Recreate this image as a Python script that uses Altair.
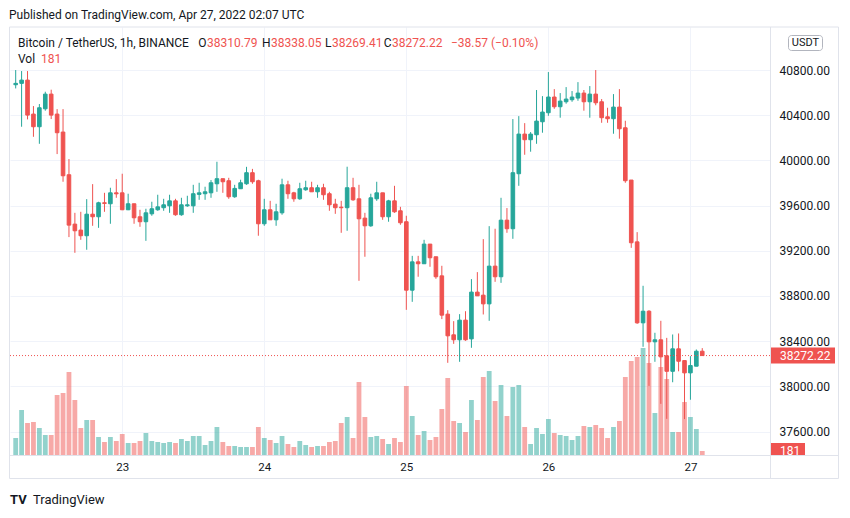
import altair as alt
import pandas as pd
import numpy as np

# ---------------- data ----------------
published = "Published on TradingView.com, Apr 27, 2022 02:07 UTC"
symbol_title = "Bitcoin / TetherUS, 1h, BINANCE"
quote_unit = "USDT"
first_hour = "2022-04-22 06:00"
day_ticks = [23, 24, 25, 26, 27]
price_ticks = [37600, 38000, 38400, 38800, 39200, 39600, 40000, 40400, 40800]

opens = [40670, 40682, 40711, 40410, 40298, 40457, 40587, 40410, 40251, 39873,
         39436, 39383, 39333, 39524, 39501, 39625, 39616, 39713, 39713, 39563,
         39616, 39501, 39457, 39527, 39563, 39581, 39598, 39642, 39519, 39598,
         39598, 39699, 39705, 39713, 39793, 39838, 39820, 39678, 39749, 39793,
         39891, 39820, 39439, 39563, 39474, 39536, 39784, 39713, 39660, 39740,
         39758, 39722, 39758, 39705, 39613, 39586, 39581, 39758, 39660, 39489,
         39421, 39660, 39713, 39501, 39642, 39554, 39457, 38851, 39102, 39085,
         39259, 39147, 38978, 38639, 38456, 38412, 38586, 38420, 38834, 38807,
         38730, 39064, 38970, 39471, 39395, 39882, 40233, 40183, 40227, 40342,
         40422, 40561, 40475, 40519, 40537, 40552, 40596, 40519, 40587, 40519,
         40386, 40369, 40472, 40289, 39826, 39279, 38562, 38665, 38394, 38412,
         38270, 38133, 38332, 38228, 38119, 38178, 38310.79]
highs = [40800, 40791, 40791, 40481, 40499, 40608, 40626, 40454, 40454, 40012,
         39536, 39545, 39657, 39790, 39634, 39713, 39758, 39834, 39882, 39705,
         39616, 39563, 39572, 39634, 39696, 39660, 39696, 39660, 39669, 39687,
         39784, 39802, 39767, 39826, 39988, 39838, 39846, 39784, 39829, 39943,
         39925, 39829, 39660, 39642, 39616, 39838, 39820, 39722, 39802, 39820,
         39811, 39784, 39793, 39722, 39660, 39642, 39944, 39846, 39784, 39536,
         39705, 39811, 39713, 39651, 39775, 39589, 39510, 39155, 39155, 39297,
         39259, 39147, 39067, 38674, 38577, 38639, 38665, 38949, 39011, 39303,
         39418, 39395, 39669, 39578, 40366, 40392, 40330, 40251, 40623, 40569,
         40782, 40631, 40596, 40649, 40614, 40693, 40623, 40658, 40800, 40543,
         40466, 40587, 40631, 40351, 39826, 39365, 38890, 38674, 38474, 38580,
         38429, 38459, 38468, 38228, 38267, 38326, 38338.05]
lows = [40637, 40298, 40363, 40209, 40147, 40440, 40366, 40056, 39811, 39321,
        39182, 39297, 39209, 39421, 39403, 39545, 39439, 39669, 39560, 39560,
        39439, 39412, 39288, 39510, 39554, 39554, 39536, 39510, 39510, 39589,
        39536, 39651, 39651, 39669, 39722, 39713, 39660, 39669, 39749, 39784,
        39793, 39333, 39421, 39474, 39421, 39519, 39660, 39634, 39651, 39731,
        39722, 39669, 39651, 39554, 39527, 39359, 39377, 39642, 38934, 39147,
        39412, 39642, 39474, 39457, 39536, 39430, 38677, 38748, 38970, 39085,
        39058, 38952, 38595, 38208, 38376, 38217, 38403, 38341, 38801, 38636,
        38580, 38925, 38916, 39359, 39306, 39775, 40050, 40077, 40147, 40245,
        40395, 40457, 40378, 40502, 40519, 40528, 40440, 40378, 40488, 40333,
        40333, 40236, 40192, 39802, 39226, 38553, 38350, 38004, 38217, 37845,
        37712, 38036, 38133, 37710, 37881, 38178, 38269.41]
closes = [40682, 40711, 40401, 40298, 40466, 40587, 40401, 40245, 39864, 39427,
          39377, 39333, 39524, 39501, 39625, 39619, 39713, 39704, 39563, 39616,
          39492, 39457, 39536, 39572, 39589, 39607, 39642, 39519, 39607, 39607,
          39705, 39713, 39722, 39802, 39838, 39811, 39678, 39752, 39802, 39891,
          39811, 39439, 39563, 39474, 39545, 39784, 39705, 39660, 39749, 39758,
          39722, 39758, 39696, 39607, 39581, 39581, 39758, 39651, 39483, 39421,
          39669, 39713, 39501, 39642, 39545, 39448, 38851, 39102, 39085, 39259,
          39138, 38970, 38630, 38447, 38412, 38586, 38412, 38834, 38801, 38730,
          39064, 38970, 39471, 39395, 39891, 40233, 40183, 40233, 40348, 40428,
          40561, 40475, 40525, 40543, 40561, 40596, 40519, 40587, 40510, 40378,
          40369, 40472, 40280, 39820, 39271, 38562, 38665, 38394, 38412, 38261,
          38133, 38332, 38222, 38119, 38184, 38310.79, 38272.22]
volumes = [765, 2025, 1440, 1485, 1215, 900, 900, 2700, 2790, 3735,
           2475, 1215, 1575, 1575, 810, 585, 810, 630, 945, 540,
           540, 630, 990, 630, 585, 540, 585, 540, 720, 630,
           855, 855, 450, 630, 1260, 585, 405, 405, 360, 360,
           360, 1260, 765, 675, 540, 855, 495, 360, 630, 450,
           360, 405, 405, 585, 630, 1440, 1710, 765, 3285, 1710,
           810, 855, 720, 495, 765, 585, 3105, 1755, 900, 1080,
           675, 810, 2070, 3465, 1530, 1440, 1035, 2475, 1575, 3510,
           3780, 2430, 3150, 1755, 3060, 3150, 1260, 495, 1215, 945,
           1620, 990, 900, 855, 675, 855, 1305, 1260, 1350, 1215,
           765, 1260, 1530, 3510, 4230, 4410, 4815, 4140, 1890, 3960,
           3420, 1035, 1035, 2385, 1710, 1170, 181]

# ---------------- styling ----------------
UP, DOWN = "#26a69a", "#ef5350"
DARK = "#131722"
GRID = "#f0f3fa"
BORDER = "#e0e3eb"
FONT = "Roboto"
W, H = 760, 428

times = pd.date_range(first_hour, periods=len(opens), freq="h")
df = pd.DataFrame({
    "t": times.strftime("%Y-%m-%dT%H:%M:%SZ"),
    "open": opens, "high": highs, "low": lows, "close": closes, "volume": volumes,
})
df["dir"] = np.where(df["close"] >= df["open"], "up", "down")

last = df.iloc[-1]
prev_close = df.iloc[-2]["close"]
chg = last["close"] - prev_close
pct = chg / prev_close * 100
def sgn(v, fmt):
    s = format(abs(v), fmt)
    return ("\u2212" + s) if v < 0 else s

cscale = alt.Scale(domain=["up", "down"], range=[UP, DOWN])
xscale = alt.Scale(type="utc", domain=[
    alt.DateTime(year=2022, month=4, date=22, hours=5, minutes=53, utc=True),
    alt.DateTime(year=2022, month=4, date=27, hours=12, minutes=36, utc=True)])
xaxis = alt.Axis(values=[alt.DateTime(year=2022, month=4, date=d, utc=True) for d in day_ticks],
                 labelExpr="utcFormat(datum.value, '%d')", grid=True, gridColor=GRID,
                 ticks=False, domain=False, labelFontSize=11.5, labelColor=DARK,
                 labelPadding=6, title=None, labelFont=FONT)
pscale = alt.Scale(domain=[37392, 41181], nice=False, zero=False)
paxis = alt.Axis(orient="right", values=price_ticks, format=".2f", grid=True, gridColor=GRID,
                 ticks=False, domain=False, labelPadding=9, labelFontSize=12,
                 labelColor=DARK, title=None, labelFont=FONT)
vscale = alt.Scale(domain=[0, 19260], nice=False)

X = alt.X("t:T", scale=xscale, axis=xaxis)
base = alt.Chart(df)

vol = base.mark_bar(width=4.8, opacity=0.5, clip=True).encode(
    x=X,
    y=alt.Y("volume:Q", scale=vscale, axis=None),
    color=alt.Color("dir:N", scale=cscale, legend=None),
)

wick = base.mark_rule(strokeWidth=1, clip=True).encode(
    x=X,
    y=alt.Y("low:Q", scale=pscale, axis=paxis),
    y2="high:Q",
    color=alt.Color("dir:N", scale=cscale, legend=None),
)
body = base.mark_bar(width=3.6, strokeWidth=1, clip=True).encode(
    x=X,
    y=alt.Y("open:Q", scale=pscale, axis=paxis),
    y2="close:Q",
    color=alt.Color("dir:N", scale=cscale, legend=None),
    stroke=alt.Stroke("dir:N", scale=cscale, legend=None),
)
pdf = pd.DataFrame({"p": [float(last["close"])]})
pline = alt.Chart(pdf).mark_rule(color=DOWN, strokeDash=[1, 2], strokeWidth=1).encode(
    y=alt.Y("p:Q", scale=pscale, axis=paxis))
pbox = alt.Chart(pdf).mark_rule(color=DOWN, strokeWidth=16).encode(
    y=alt.Y("p:Q", scale=pscale, axis=paxis), x=alt.value(760), x2=alt.value(825))
ptext = alt.Chart(pdf).mark_text(color="white", align="left", baseline="middle",
                                 fontSize=12, font=FONT).encode(
    y=alt.Y("p:Q", scale=pscale, axis=paxis), x=alt.value(770),
    text=alt.Text("p:Q", format=".2f"))
price = alt.layer(wick, body, pline, pbox, ptext)

one = pd.DataFrame({"k": [0]})
def txt(s, x, y, color=DARK, size=12, align="left", weight="normal", baseline="middle"):
    return alt.Chart(one).mark_text(text=s, align=align, baseline=baseline, color=color,
                                    fontSize=size, fontWeight=weight, font=FONT).encode(
        x=alt.value(x), y=alt.value(y))
def box(x, x2, y, y2, **kw):
    return alt.Chart(one).mark_rect(**kw).encode(
        x=alt.value(x), x2=alt.value(x2), y=alt.value(y), y2=alt.value(y2))
def line(x, x2, y, y2):
    return alt.Chart(one).mark_rule(color=BORDER, strokeWidth=1).encode(
        x=alt.value(x), x2=alt.value(x2), y=alt.value(y), y2=alt.value(y2))

vlabel = [
    box(760, 795, 416, 428, color=DOWN),
    txt(str(int(last["volume"])), 770, 419, color="white", baseline="top"),
    box(761.5, 827.5, 429, 450.5, color="white"),
]
frame = [
    box(-0.5, 828.5, 0, 451.5, fillOpacity=0, stroke=BORDER, strokeWidth=1),
    line(760.5, 760.5, 0, 451.5),
    line(-0.5, 828.5, 428.5, 428.5),
    box(778.5, 812.5, 8.5, 23.5, fillOpacity=0, stroke="#b2b5be", strokeWidth=1, cornerRadius=3),
]

def ohlc_item(letter, value, x_value):
    return [txt(letter, x_value - 0.5, 16, align="right"),
            txt(value, x_value, 16, color=DOWN)]

labels = [
    txt(published, -1, -12),
    txt(symbol_title, 8, 16),
    *ohlc_item("O", f"{last['open']:.2f}", 197),
    *ohlc_item("H", f"{last['high']:.2f}", 261),
    *ohlc_item("L", f"{last['low']:.2f}", 322),
    *ohlc_item("C", f"{last['close']:.2f}", 382),
    txt(f"{sgn(chg, '.2f')} ({sgn(pct, '.2f')}%)", 441, 16, color=DOWN),
    txt("Vol", 8, 32), txt(str(int(last["volume"])), 31, 32, color=DOWN),
    txt(quote_unit, 795.5, 16, size=11, align="center"),
    txt("TV", 0, 473, size=13, weight="bold"),
    txt("TradingView", 23, 473, size=13),
]

chart = alt.layer(vol, price, *vlabel, *frame, *labels).resolve_scale(
    y="independent"
).properties(
    width=W, height=H,
    autosize=alt.AutoSizeParams(type="none"),
    padding={"left": 2, "top": 19, "right": 72, "bottom": 55},
    background="white",
).configure_view(stroke=None)

chart.save("out.html", embed_options={"renderer": "svg", "actions": False})
